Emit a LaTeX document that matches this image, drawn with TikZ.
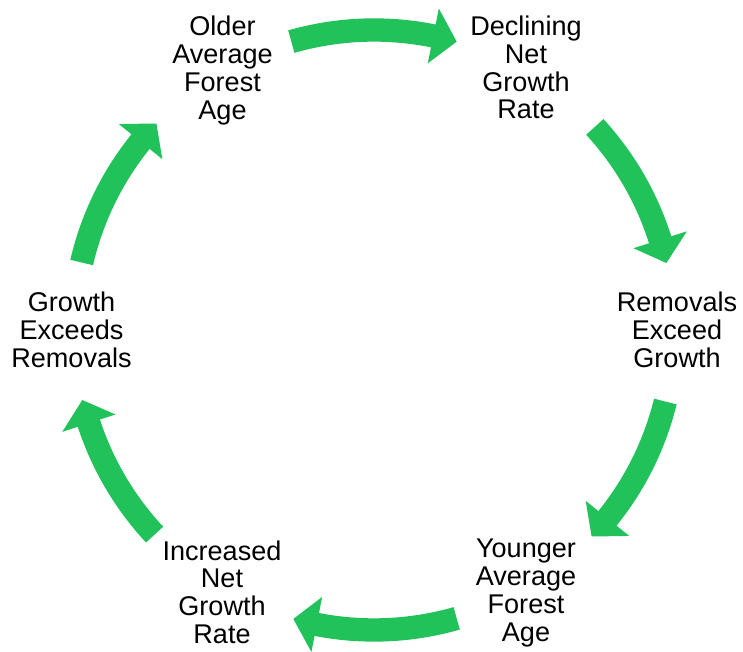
\documentclass[tikz,border=0pt]{standalone}
\usepackage{fontspec}
\setmainfont{Liberation Sans}
\usetikzlibrary{calc}
\definecolor{cyclegreen}{RGB}{34,194,90}
\tikzset{
  stage/.style={align=center, inner sep=0pt, anchor=center,
    font=\fontsize{20.3}{20.8}\selectfont, text=black},
  shaft/.style={draw=cyclegreen, line width=17.5pt, line cap=butt},
  arrowhead/.style={fill=cyclegreen},
}
% curved arrow along the cycle circle: #1 tail angle, #2 tip angle (clockwise)
\newcommand\cyclearrow[2]{%
  \coordinate (tail) at ($(C)+(#1:300)$);
  \coordinate (tip) at ($(C)+(#2:300)$);
  \coordinate (hbo) at ($(C)+({#2+4.6}:328)$);
  \coordinate (hbi) at ($(C)+({#2+4.6}:272)$);
  \draw[shaft] (tail) arc[start angle=#1, end angle={#2+4.2}, radius=300];
  \fill[arrowhead] (hbo) -- (tip) -- (hbi) -- cycle;
}
\begin{document}
\begin{tikzpicture}[x=0.75pt, y=0.75pt]
  \useasboundingbox (0,0) rectangle (743,652);
  \coordinate (C) at (374,322);

  % stages of the forest age cycle
  \node[stage] (older)     at (222.5,581.5) {Older\\Average\\Forest\\Age};
  \node[stage] (declining) at (526,584.5)   {Declining\\Net\\Growth\\Rate};
  \node[stage] (removals)  at (677,322)     {Removals\\Exceed\\Growth};
  \node[stage] (younger)   at (526,59)      {Younger\\Average\\Forest\\Age};
  \node[stage] (increased) at (222,60)      {Increased\\Net\\Growth\\Rate};
  \node[stage] (growth)    at (71.5,322)    {Growth\\Exceeds\\Removals};

  % transitions between stages
  \cyclearrow{106}{74}
  \cyclearrow{42.6}{12.9}
  \cyclearrow{-13.8}{-43.5}
  \cyclearrow{-74}{-105.6}
  \cyclearrow{-137}{-166.5}
  \cyclearrow{167}{136.5}
\end{tikzpicture}
\end{document}
